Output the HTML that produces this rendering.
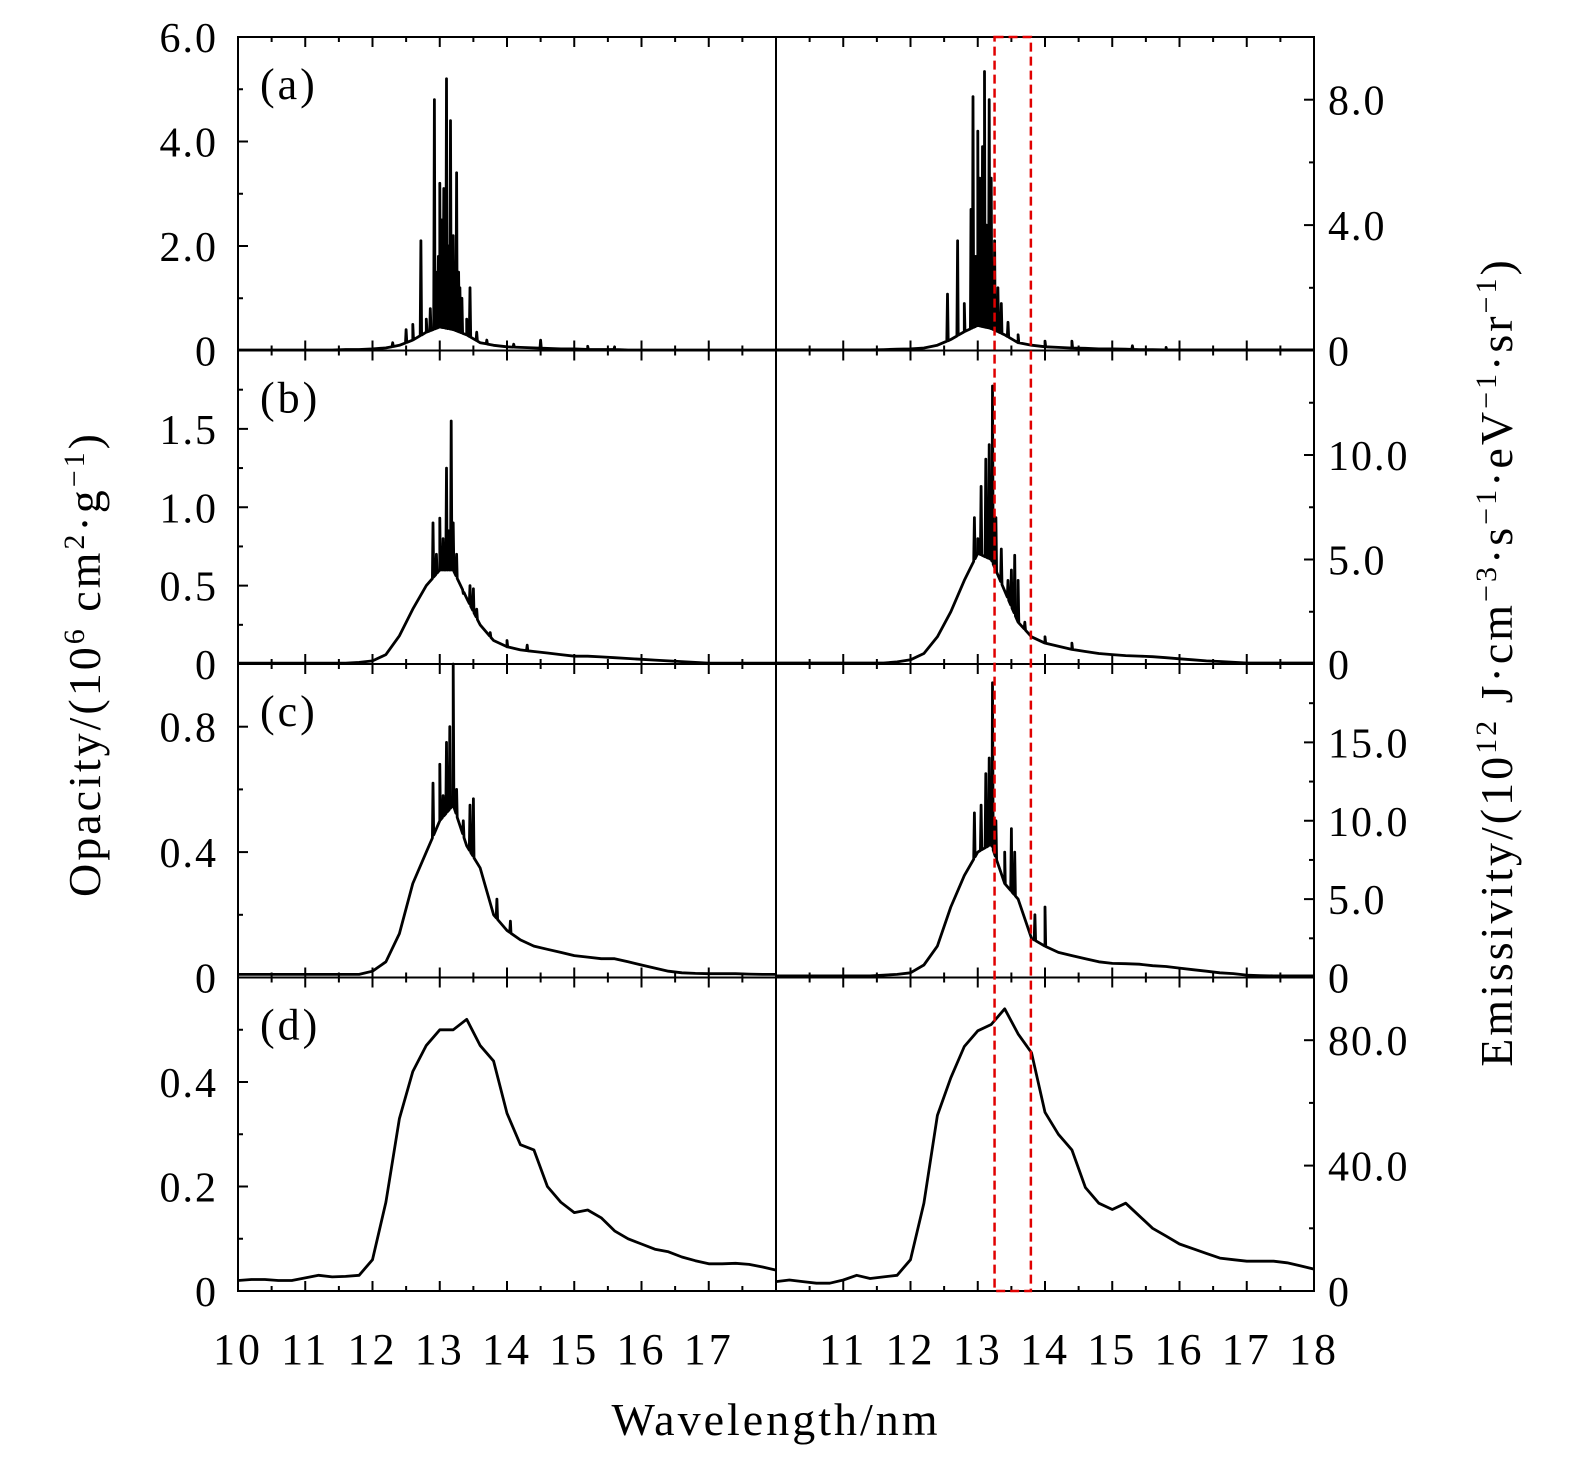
<!DOCTYPE html>
<html><head><meta charset="utf-8"><style>
html,body{margin:0;padding:0;background:#fff;}
svg text{font-family:"Liberation Serif",serif;fill:#000;}
</style></head><body>
<svg id="chart" width="1575" height="1467" viewBox="0 0 1575 1467" xmlns="http://www.w3.org/2000/svg">
<g id="plots"></g>
<text transform="translate(100,664) rotate(-90)" text-anchor="middle" font-size="46" letter-spacing="3">Opacity/(10<tspan baseline-shift="super" font-size="30">6</tspan> cm<tspan baseline-shift="super" font-size="30">2</tspan>·g<tspan baseline-shift="super" font-size="30">−1</tspan>)</text>
<text transform="translate(1512,662) rotate(-90)" text-anchor="middle" font-size="46" letter-spacing="3">Emissivity/(10<tspan baseline-shift="super" font-size="30">12</tspan> J·cm<tspan baseline-shift="super" font-size="30">−3</tspan>·s<tspan baseline-shift="super" font-size="30">−1</tspan>·eV<tspan baseline-shift="super" font-size="30">−1</tspan>·sr<tspan baseline-shift="super" font-size="30">−1</tspan>)</text>
<text x="776" y="1435" text-anchor="middle" font-size="46" letter-spacing="3">Wavelength/nm</text>
</svg>
<script>
// base curves sampled every 0.2 nm from 10 to 18
const aLeftBase=[.01,.01,.01,.01,.01,.01,.01,.01,.02,.02,.03,.05,.1,.2,.35,.45,.4,.3,.15,.1,.07,.06,.05,.04,.03,.03,.02,.02,.02,.01,.01,.01,.01,.01,.01,.01,.01,.01,.01,.01,.01];
const aLeftSpikes=[[12.3,.15],[12.5,.4],[12.6,.5],[12.72,2.1],[12.8,.6],[12.86,.8],[12.92,4.8],[12.94,1.2],[12.96,1.5],[12.98,1.8],[13.0,3.2],[13.02,1.6],[13.03,2.5],[13.06,3.1],[13.08,2.0],[13.1,5.2],[13.13,2.0],[13.16,4.4],[13.18,1.8],[13.2,2.2],[13.22,1.5],[13.25,3.4],[13.28,1.5],[13.3,1.2],[13.33,1.0],[13.4,.6],[13.45,1.2],[13.55,.35],[13.7,.2],[14.1,.12],[14.5,.2],[15.2,.08],[15.6,.07]];
const aRightBase=[.02,.02,.02,.02,.02,.02,.02,.02,.03,.04,.05,.08,.17,.35,.6,.8,.7,.5,.25,.17,.12,.1,.08,.07,.05,.05,.04,.03,.03,.02,.02,.02,.02,.02,.02,.02,.02,.02,.02,.02,.02];
const aRightSpikes=[[12.55,1.8],[12.7,3.5],[12.8,1.5],[12.9,4.5],[12.93,8.1],[12.95,2.5],[12.97,3],[13.0,7],[13.02,3],[13.03,5.5],[13.07,6.5],[13.09,3.5],[13.1,8.9],[13.13,4],[13.15,3],[13.17,8.0],[13.2,5.5],[13.25,3.5],[13.3,2],[13.35,1.5],[13.45,.9],[13.6,.5],[14.0,.3],[14.4,.3],[15.3,.15],[15.8,.1]];
const bLeftBase=[.005,.005,.005,.005,.005,.005,.005,.005,.005,.01,.02,.06,.18,.35,.5,.6,.6,.42,.25,.15,.11,.09,.08,.07,.06,.05,.05,.045,.04,.035,.03,.025,.02,.015,.01,.005,.005,.005,.005,.005,.005];
const bLeftSpikes=[[12.9,.9],[12.95,.7],[13.0,.93],[13.03,.7],[13.05,.8],[13.1,1.25],[13.13,.85],[13.17,1.55],[13.2,.9],[13.25,.7],[13.35,.45],[13.4,.42],[13.45,.5],[13.5,.48],[13.55,.35],[13.75,.2],[14.0,.15],[14.3,.12]];
const bRightBase=[.05,.05,.05,.05,.05,.05,.05,.05,.05,.1,.2,.5,1.3,2.5,4,5.3,5,3.5,2,1.3,1,.85,.7,.6,.5,.45,.4,.38,.35,.3,.25,.2,.15,.12,.08,.05,.05,.05,.05,.05,.05];
const bRightSpikes=[[12.95,7],[13.0,6],[13.05,8.5],[13.12,9.8],[13.17,10.5],[13.22,13.3],[13.27,7],[13.35,5.5],[13.45,4],[13.5,4.5],[13.55,5.2],[13.6,4],[13.7,2],[14.0,1.3],[14.4,1.0]];
const cLeftBase=[.01,.01,.01,.01,.01,.01,.01,.01,.01,.01,.02,.05,.14,.3,.4,.5,.55,.42,.35,.2,.15,.12,.1,.09,.08,.07,.065,.06,.06,.05,.04,.03,.02,.015,.013,.012,.012,.012,.011,.01,.01];
const cLeftSpikes=[[12.9,.62],[13.0,.68],[13.05,.58],[13.1,.75],[13.15,.8],[13.2,1.0],[13.25,.6],[13.35,.5],[13.45,.55],[13.5,.57],[13.85,.25],[14.05,.18]];
const cRightBase=[.1,.1,.1,.1,.1,.1,.1,.1,.15,.2,.3,.8,2,4.5,6.5,8,8.5,6,5,2.5,2,1.6,1.4,1.2,1,.9,.88,.85,.75,.7,.6,.5,.4,.3,.25,.15,.12,.1,.1,.1,.1];
const cRightSpikes=[[12.95,10.5],[13.05,11],[13.12,13],[13.17,14],[13.22,18.8],[13.27,10],[13.4,8],[13.5,9.5],[13.55,8],[13.85,4],[14.0,4.5]];
const dLeftBase=[.02,.022,.022,.02,.02,.025,.03,.027,.028,.03,.06,.17,.33,.42,.47,.5,.5,.52,.47,.44,.34,.28,.27,.2,.17,.15,.155,.14,.115,.1,.09,.08,.075,.065,.058,.052,.052,.053,.051,.046,.04];
const dRightBase=[3,3.5,3,2.5,2.5,3.5,5,4,4.5,5,10,28,56,68,78,83,85,90,82,76,57,50,45,33,28,26,28,24,20,17.5,15,13.5,12,10.5,10,9.5,9.5,9.5,9,8,7];
const xTicksLeft=["10","11","12","13","14","15","16","17"];
const xTicksRight=["11","12","13","14","15","16","17","18"];
const boxRange=[13.25,13.79];

const NS="http://www.w3.org/2000/svg";
const plots=document.getElementById('plots');
const X0L=238,X0R=776,PW=538;
const rowTops=[37,350.5,664,977.5],RH=313.5;
function xs(w,left){return (left?X0L:X0R)+(w-10)/8*PW;}
function mk(tag,attrs){const e=document.createElementNS(NS,tag);for(const k in attrs)e.setAttribute(k,attrs[k]);return e;}
function baseAt(arr,w){const t=(w-10)/0.2;const i=Math.max(0,Math.min(arr.length-2,Math.floor(t)));const f=t-i;return arr[i]*(1-f)+arr[i+1]*f;}
function series(base,spikes){let pts=base.map((v,i)=>[10+i*0.2,v]);
  (spikes||[]).forEach(s=>{pts.push([s[0]-0.01,baseAt(base,s[0]-0.01)]);pts.push([s[0],s[1]]);pts.push([s[0]+0.01,baseAt(base,s[0]+0.01)]);});
  pts.sort((a,b)=>a[0]-b[0]);return pts;}
const panels=[
 {row:0,left:true,base:aLeftBase,spikes:aLeftSpikes,max:6,major:[0,2,4,6],labels:["0","2.0","4.0","6.0"],minor:[1,3,5],tag:"(a)"},
 {row:0,left:false,base:aRightBase,spikes:aRightSpikes,max:10,major:[0,4,8],labels:["0","4.0","8.0"],minor:[2,6,10]},
 {row:1,left:true,base:bLeftBase,spikes:bLeftSpikes,max:2,major:[0,.5,1,1.5],labels:["0","0.5","1.0","1.5"],minor:[.25,.75,1.25,1.75],tag:"(b)"},
 {row:1,left:false,base:bRightBase,spikes:bRightSpikes,max:15,major:[0,5,10],labels:["0","5.0","10.0"],minor:[2.5,7.5,12.5]},
 {row:2,left:true,base:cLeftBase,spikes:cLeftSpikes,max:1,major:[0,.4,.8],labels:["0","0.4","0.8"],minor:[.2,.6],tag:"(c)"},
 {row:2,left:false,base:cRightBase,spikes:cRightSpikes,max:20,major:[0,5,10,15],labels:["0","5.0","10.0","15.0"],minor:[2.5,7.5,12.5,17.5]},
 {row:3,left:true,base:dLeftBase,spikes:null,max:.6,major:[0,.2,.4],labels:["0","0.2","0.4"],minor:[.1,.3,.5],tag:"(d)"},
 {row:3,left:false,base:dRightBase,spikes:null,max:100,major:[0,40,80],labels:["0","40.0","80.0"],minor:[20,60,100]}
];
panels.forEach((p,pi)=>{
  const top=rowTops[p.row],bot=top+RH,x0=p.left?X0L:X0R,x1=x0+PW;
  const ys=v=>bot-v/p.max*RH;
  const g=mk('g',{});
  
  
  plots.appendChild(g);
  const d=series(p.base,p.spikes).map((q,i)=>(i?'L':'M')+xs(q[0],p.left).toFixed(1)+','+ys(q[1]).toFixed(1)).join('');
  const path=mk('path',{d:d,fill:'none',stroke:'#000','stroke-width':2.8,'stroke-linejoin':'round'});
  
  
  g.appendChild(path);
  const fr=mk('rect',{x:x0,y:top,width:PW,height:RH,fill:'none',stroke:'#000','stroke-width':2});
  
  
  g.appendChild(fr);
  for(let w=10;w<=18;w+=0.5){const X=xs(w,p.left);const L=(w%1===0)?10:5;
    g.appendChild(mk('line',{x1:X,x2:X,y1:bot,y2:bot-L,stroke:'#000','stroke-width':2}));
    g.appendChild(mk('line',{x1:X,x2:X,y1:top,y2:top+L,stroke:'#000','stroke-width':2}));}
  const ax=p.left?x0:x1,dir=p.left?1:-1;
  p.major.forEach((v,i)=>{const Y=ys(v);
    g.appendChild(mk('line',{x1:ax,x2:ax+dir*10,y1:Y,y2:Y,stroke:'#000','stroke-width':2}));
    if(p.left && p.row>0 && i===p.major.length-1 && v===p.max) return;
    const t=mk('text',{x:p.left?ax-20:ax+14,y:Y+15,'font-size':42,'letter-spacing':2,'text-anchor':p.left?'end':'start'});
    
    
    t.textContent=p.labels[i];g.appendChild(t);});
  p.minor.forEach(v=>{const Y=ys(v);g.appendChild(mk('line',{x1:ax,x2:ax+dir*5,y1:Y,y2:Y,stroke:'#000','stroke-width':2}));});
  if(p.tag){const t=mk('text',{x:x0+22,y:top+62,'font-size':44,'letter-spacing':3});
    
    
    t.textContent=p.tag;g.appendChild(t);}
});
xTicksLeft.forEach(s=>{const t=mk('text',{x:xs(+s,true),y:1364,'font-size':44,'letter-spacing':3,'text-anchor':'middle'});
  
  
  t.textContent=s;document.getElementById('chart').appendChild(t);});
xTicksRight.forEach(s=>{const t=mk('text',{x:xs(+s,false),y:1364,'font-size':44,'letter-spacing':3,'text-anchor':'middle'});
  
  
  t.textContent=s;document.getElementById('chart').appendChild(t);});
const bx0=xs(boxRange[0],false),bx1=xs(boxRange[1],false);
const box=mk('rect',{x:bx0,y:37,width:bx1-bx0,height:1254,fill:'none',stroke:'#e00000','stroke-width':2.5,'stroke-dasharray':'9,5'});


document.getElementById('chart').appendChild(box);
</script>
</body></html>
